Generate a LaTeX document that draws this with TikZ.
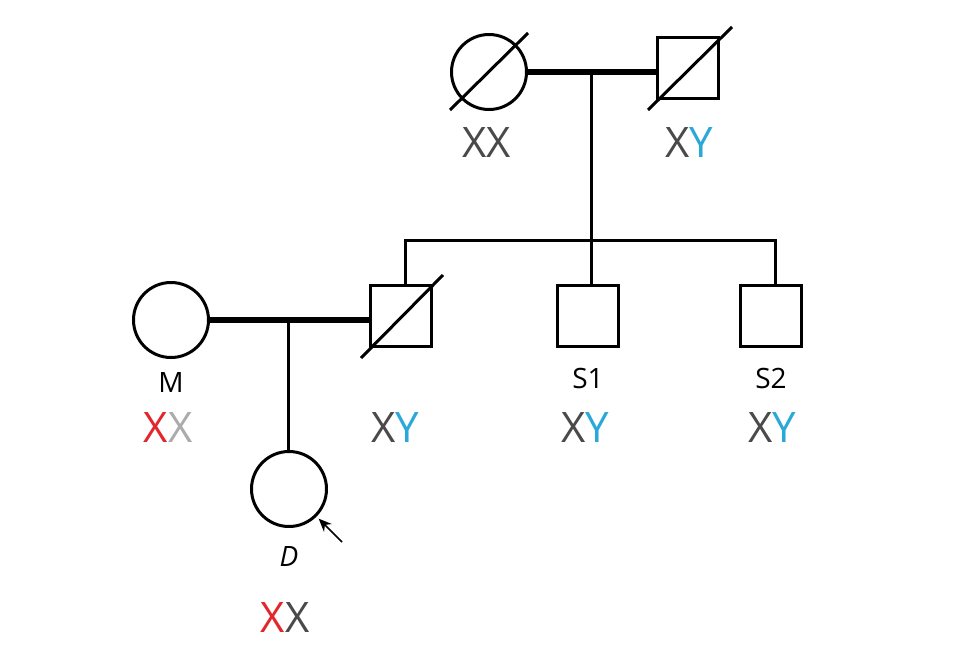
\documentclass[tikz,border=0pt]{standalone}
\usepackage{fontspec}
\setmainfont{Open Sans}
\usetikzlibrary{calc,arrows.meta}
\definecolor{xgray}{HTML}{4A4A4A}
\definecolor{xlight}{HTML}{ABABAB}
\definecolor{xred}{HTML}{E3262B}
\definecolor{yblue}{HTML}{2AA9D9}
\begin{document}
\begin{tikzpicture}[x=1pt,y=-1pt,
  female/.style={draw,circle,line width=3pt,minimum size=75pt,inner sep=0pt},
  male/.style={draw,rectangle,line width=3pt,minimum size=61pt,inner sep=0pt},
  link/.style={line width=3pt},
  couple/.style={line width=5.5pt},
  slash/.style={line width=3pt},
  geno/.style={font=\fontsize{42}{42}\selectfont,inner sep=0pt,anchor=center},
  tag/.style={font=\fontsize{28}{28}\selectfont,inner sep=0pt,anchor=center}]
\useasboundingbox (0,0) rectangle (977,667);
\fill[white] (0,0) rectangle (977,667);

% grandparents
\node[female] (gm) at (489,72) {};
\node[male] (gf) at (688,68) {};
\draw[slash] ($(gm.center)+(-39,38)$) -- ($(gm.center)+(39,-39)$);
\draw[slash] ($(gf.center)+(-40,42)$) -- ($(gf.center)+(44,-41)$);
\coordinate (gmid) at (591,72);
\draw[couple] (gm.east) -- (gm.east -| gf.west);

% children
\node[male] (fa) at (401,316) {};
\node[male] (s1) at (588,316) {};
\node[male] (s2) at (771,316) {};
\draw[slash] ($(fa.center)+(-40,42)$) -- ($(fa.center)+(42,-41)$);
\coordinate (sibL) at (405,240);
\coordinate (sibR) at (775,240);
\coordinate (sibM) at (591,240);
\draw[link] (gmid) -- (sibM);
\draw[link,line cap=rect] (sibL) -- (sibR);
\draw[link] (sibL) -- (sibL |- fa.north);
\draw[link] (sibM) -- (sibM |- s1.north);
\draw[link] (sibR) -- (sibR |- s2.north);

% mother and daughter
\node[female] (mo) at (171,320) {};
\node[female] (da) at (289,489) {};
\coordinate (pmid) at (288,320);
\draw[couple] (mo.east) -- (fa.west |- mo.east);
\draw[link] (pmid) -- (pmid |- da.north);

% proband arrow
\coordinate (arr) at (342,542);
\draw[line width=1.6pt,-{Stealth[length=13pt,width=11pt]},shorten >=3pt] (arr) -- (da.-45);

% labels
\node[geno] (gmg) at (487,143) {\textcolor{xgray}{XX}};
\node[geno] (gfg) at (689,143) {\textcolor{xgray}{X}\textcolor{yblue}{Y}};
\node[tag] (mol) at (171,382) {M};
\node[geno] (mog) at (168,428) {\textcolor{xred}{X}\textcolor{xlight}{X}};
\node[geno] (fag) at (395,428) {\textcolor{xgray}{X}\textcolor{yblue}{Y}};
\node[tag] (s1l) at (588,378) {S1};
\node[geno] (s1g) at (585,428) {\textcolor{xgray}{X}\textcolor{yblue}{Y}};
\node[tag] (s2l) at (771,378) {S2};
\node[geno] (s2g) at (772,428) {\textcolor{xgray}{X}\textcolor{yblue}{Y}};
\node[tag] (dal) at (289,556) {\itshape D};
\node[geno] (dag) at (285,617) {\textcolor{xred}{X}\textcolor{xgray}{X}};
\end{tikzpicture}
\end{document}
